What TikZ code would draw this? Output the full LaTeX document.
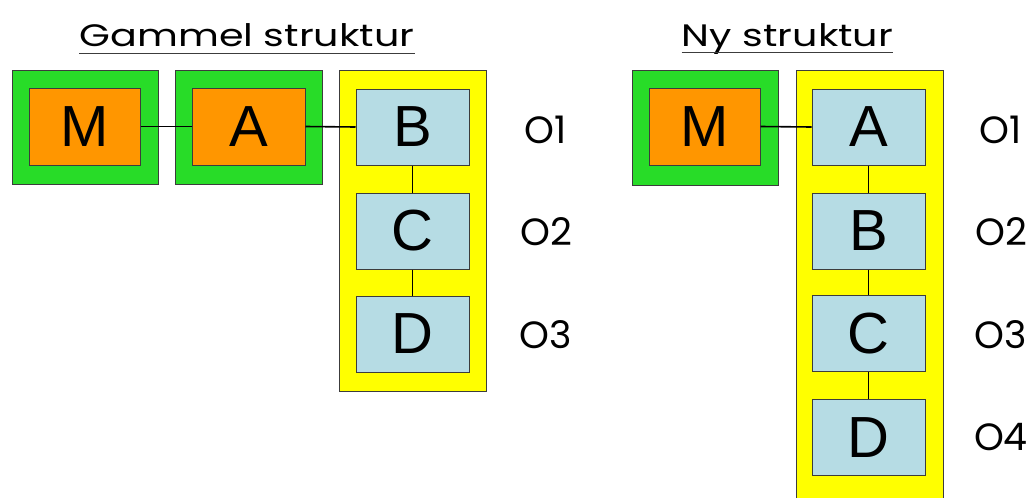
\documentclass[tikz,border=0pt]{standalone}
\usepackage{fontspec}
\setmainfont{Liberation Sans}
\newfontfamily\geofont{Poppins}
\newfontfamily\titlefont[FakeStretch=1.28]{Poppins}
\definecolor{boxgreen}{RGB}{40,220,40}
\definecolor{boxorange}{RGB}{255,150,0}
\definecolor{boxblue}{RGB}{182,220,228}
\definecolor{boxyellow}{RGB}{255,255,0}
\definecolor{edge}{RGB}{60,60,60}
\begin{document}
\begin{tikzpicture}[x=1pt,y=-1pt,
  outer/.style={draw=edge,line width=1pt,fill=boxgreen,minimum width=146pt,minimum height=114pt,inner sep=0pt},
  frame/.style={draw=edge,line width=1pt,fill=boxyellow,minimum width=147pt,inner sep=0pt},
  mbox/.style={draw=edge,line width=1pt,fill=boxorange,minimum width=112pt,minimum height=77pt,inner sep=0pt,font=\fontsize{58}{60}\selectfont},
  lbox/.style={draw=edge,line width=1pt,fill=boxblue,minimum width=113pt,minimum height=76pt,inner sep=0pt,font=\fontsize{58}{60}\selectfont},
  lvl/.style={font=\geofont\fontsize{38}{42}\selectfont,inner sep=0pt},
  ttl/.style={font=\titlefont\fontsize{31}{36}\selectfont,inner sep=0pt,anchor=base},
  conn/.style={draw=black,line width=1.6pt}]
\useasboundingbox (0,0) rectangle (1033,498);
\fill[white] (0,0) rectangle (1033,498);
% titles
\node[ttl] (t1) at (247,46) {Gammel struktur};
\draw[line width=1pt,edge] ([yshift=-7pt]t1.base west) -- ([yshift=-7pt]t1.base east);
\node[ttl] (t2) at (787.5,46) {Ny struktur};
\draw[line width=1pt,edge] ([yshift=-6pt]t2.base west) -- ([yshift=-6pt]t2.base east);
% left (old structure)
\node[outer] (gM) at (85,127) {};
\node[outer,minimum width=147pt] (gA) at (248.5,127) {};
\node[frame,minimum height=321pt] (yL) at (412.5,230.5) {};
\node[mbox,minimum width=111pt] (M1) at (84.5,126.5) {M};
\node[mbox,minimum width=113pt] (A1) at (248.5,126.5) {A};
\node[lbox] (B1) at (412.5,127) {B};
\node[lbox] (C1) at (412.5,231) {C};
\node[lbox] (D1) at (412.5,334) {D};
\draw[conn] (M1.east) -- (A1.west);
\draw[conn] (A1.east) -- (B1.west);
\draw[conn] (B1.south) -- (C1.north);
\draw[conn] (C1.south) -- (D1.north);
\node[lvl] (o11) at (546,130) {O1};
\node[lvl] (o12) at (546,232) {O2};
\node[lvl] (o13) at (546,335) {O3};
% right (new structure)
\node[outer,minimum height=115pt] (gM2) at (705,127.5) {};
\coordinate (yRtl) at (796,70);
\coordinate (yRbr) at (943,498);
\fill[boxyellow] (yRtl) rectangle (yRbr);
\draw[line width=1pt,edge] (796,498) -- (yRtl) -- (943,70) -- (yRbr);
\node[mbox,minimum width=111pt] (M2) at (704.5,126.5) {M};
\node[lbox] (A2) at (868.5,127) {A};
\node[lbox] (B2) at (868.5,231) {B};
\node[lbox] (C2) at (868.5,333.5) {C};
\node[lbox] (D2) at (868.5,437.5) {D};
\draw[conn] (M2.east) -- (A2.west);
\draw[conn] (A2.south) -- (B2.north);
\draw[conn] (B2.south) -- (C2.north);
\draw[conn] (C2.south) -- (D2.north);
\node[lvl] (o21) at (1001,130) {O1};
\node[lvl] (o22) at (1001,232) {O2};
\node[lvl] (o23) at (1001,335) {O3};
\node[lvl] (o24) at (1001,437) {O4};
\end{tikzpicture}
\end{document}
